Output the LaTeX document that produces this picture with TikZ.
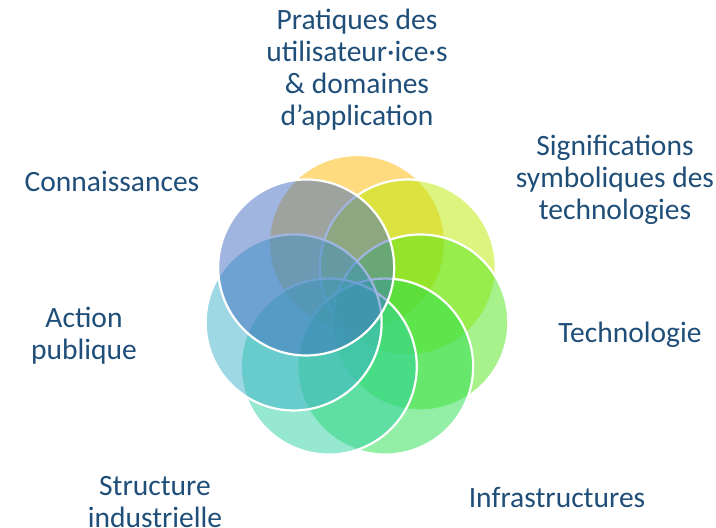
\documentclass[tikz,border=0pt]{standalone}
\usepackage{fontspec}
\setmainfont{Carlito}
\usepackage{xcolor}
\usepackage{tikz}
\usetikzlibrary{calc}
\definecolor{texte}{HTML}{1F4E79}
\definecolor{jaune}{HTML}{FFB700}
\definecolor{citron}{HTML}{BBEB00}
\definecolor{vert}{HTML}{51E519}
\definecolor{vertfonce}{HTML}{27DD4D}
\definecolor{menthe}{HTML}{2DD1A1}
\definecolor{turquoise}{HTML}{3DB1C9}
\definecolor{bleu}{HTML}{416DC1}

\begin{document}
\begin{tikzpicture}[x=1pt, y=-1pt,
    cercle/.style={fill=#1, fill opacity=0.5, draw=white, line width=2.2pt},
    etiquette/.style={text=texte, align=center, inner sep=0pt,
        font=\fontsize{29.5}{32}\selectfont}]
    % Cadre
    \useasboundingbox (0,0) rectangle (716,528);

    % Centre de l'anneau
    \coordinate (centre) at (357,308);

    % Les sept cercles, dans le sens des aiguilles d'une montre
    \foreach \couleur [count=\i from 0] in {jaune,citron,vert,vertfonce,menthe,turquoise,bleu}
        \draw[cercle=\couleur] ($(centre)+({\i*360/7-90}:65)$) circle[radius=88pt];

    % Etiquettes
    \node[etiquette] (pratiques) at (357,70) {Pratiques des\\utilisateur·ice·s\\\& domaines\\d’application};
    \node[etiquette] (significations) at (615,180) {Significations\\symboliques des\\technologies};
    \node[etiquette] (technologie) at (630,335) {Technologie};
    \node[etiquette] (infrastructures) at (557,497) {Infrastructures};
    \node[etiquette] (structure) at (155,502) {Structure\\industrielle};
    \node[etiquette] (action) at (84,336) {Action\\publique};
    \node[etiquette] (connaissances) at (112,181) {Connaissances};
\end{tikzpicture}
\end{document}
